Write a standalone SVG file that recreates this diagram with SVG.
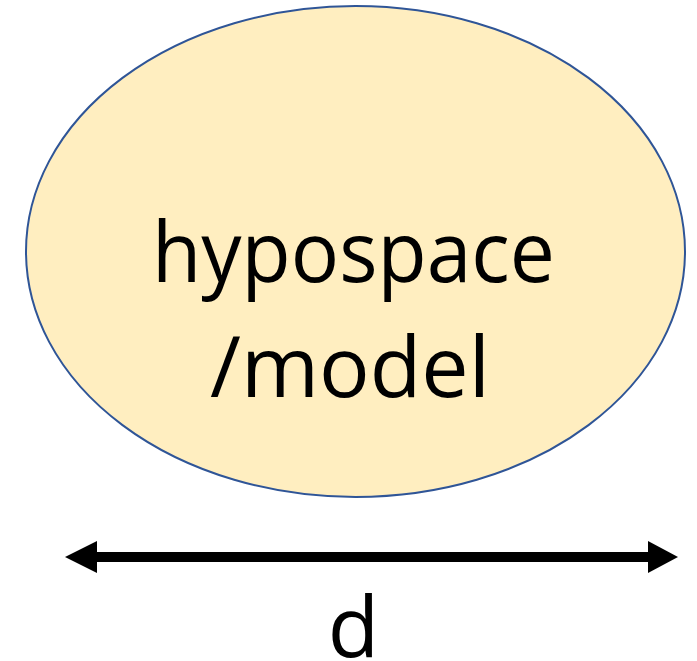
<svg xmlns="http://www.w3.org/2000/svg" width="697" height="661" viewBox="0 0 697 661">
<style>
.lbl{font-family:"Open Sans","Liberation Sans",sans-serif;fill:#000;}
</style>
<rect width="697" height="661" fill="#fff"/>
<g id="hypospace">
<ellipse cx="355.5" cy="251.5" rx="329.5" ry="245.5" fill="#FFEEC0" stroke="#2F5597" stroke-width="2"/>
<text class="lbl" x="152" y="282" font-size="84" textLength="403" lengthAdjust="spacingAndGlyphs">hypospace</text>
<text class="lbl" x="210" y="397" font-size="84" textLength="280" lengthAdjust="spacingAndGlyphs">/model</text>
</g>
<g id="connectors">
<line x1="95" y1="557" x2="650" y2="557" stroke="#000" stroke-width="10"/>
<polygon points="65,557 97,541 97,573" fill="#000"/>
<polygon points="678,557 648,541 648,573" fill="#000"/>
</g>
<g id="dim">
<text class="lbl" x="353.5" y="657" font-size="84" text-anchor="middle">d</text>
</g>
</svg>
